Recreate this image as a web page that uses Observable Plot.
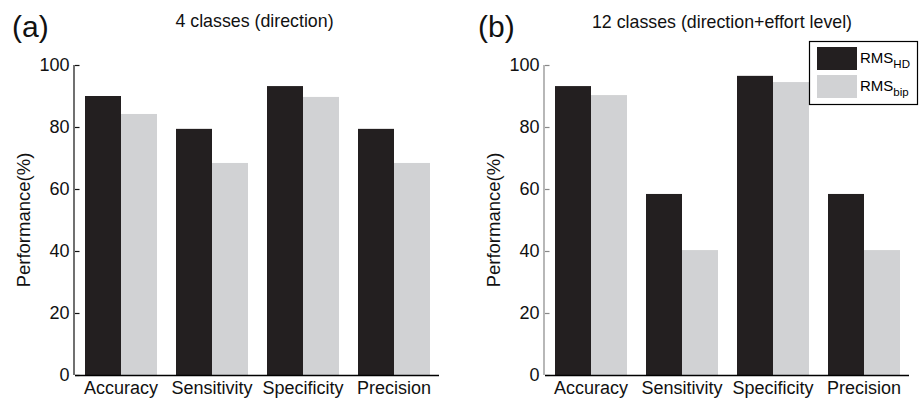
<!DOCTYPE html>
<html><head><meta charset="utf-8">
<script src="https://cdn.jsdelivr.net/npm/d3@7"></script>
<script src="https://cdn.jsdelivr.net/npm/@observablehq/plot@0.6"></script>
<style>
body{margin:0;background:#fff;}
#wrap{position:relative;width:921px;height:400px;font-family:"Liberation Sans",Arial,Helvetica,sans-serif;font-style:normal;}
#wrap > svg, #wrap > figure{position:absolute;top:0;margin:0;}
#wrap text{font-style:normal;}
</style></head><body><div id="wrap"></div>
<script>
const metrics = ["Accuracy", "Sensitivity", "Specificity", "Precision"];
const seriesNames = ["RMS_HD", "RMS_bip"];
const hd4 = [90.0, 79.4, 93.2, 79.4];
const bip4 = [84.2, 68.4, 89.7, 68.4];
const hd12 = [93.2, 58.4, 96.5, 58.4];
const bip12 = [90.3, 40.3, 94.5, 40.3];
const yTicks = [0, 20, 40, 60, 80, 100];
const colors = ["#231f20", "#d1d2d4"];
const titles = ["4 classes (direction)", "12 classes (direction+effort level)"];
const letters = ["(a)", "(b)"];
const yLabel = "Performance(%)";

const FONT = '"Liberation Sans", Arial, Helvetica, sans-serif';
const wrap = document.getElementById("wrap");

function rowsOf(hd, bip) {
  const rows = [];
  metrics.forEach((m, i) => {
    rows.push({metric: m, series: seriesNames[0], value: hd[i]});
    rows.push({metric: m, series: seriesNames[1], value: bip[i]});
  });
  return rows;
}

const panels = [];
function panel(hd, bip, {left, marginLeft, marginRight, axisColor}) {
  const chart = Plot.plot({
    width: 460, height: 400,
    marginLeft, marginRight, marginTop: 65, marginBottom: 25,
    style: {fontFamily: FONT, fontSize: "18px", color: "#000", background: "transparent", overflow: "visible"},
    fx: {domain: metrics, padding: 0, label: null},
    x: {domain: seriesNames, paddingInner: 0, paddingOuter: 0.25, axis: null},
    y: {domain: [0, 100], ticks: yTicks},
    color: {domain: seriesNames, range: colors},
    marks: [
      Plot.barY(rowsOf(hd, bip), {fx: "metric", x: "series", y: "value", fill: "series"}),
      Plot.axisY({ticks: yTicks, tickSize: -4.5, tickPadding: 10.5, stroke: axisColor, strokeWidth: 1.2,
        label: null, fill: "#111"}),
      Plot.ruleY([0], {stroke: "#000", strokeWidth: 1.3}),
      Plot.axisFx({anchor: "bottom", tickSize: 0, tickPadding: 6, label: null, fill: "#111"})
    ]
  });
  chart.style.left = left + "px";
  wrap.appendChild(chart);
  panels.push({chart, left, marginLeft, marginRight, axisColor});
}

panel(hd4, bip4, {left: 0, marginLeft: 74, marginRight: 20, axisColor: "#111"});
panel(hd12, bip12, {left: 461, marginLeft: 83, marginRight: 11, axisColor: "#888"});

// annotations: axis lines, y labels, panel letters, titles, legend
const svg = d3.select(wrap).append("svg")
  .attr("width", 921).attr("height", 400)
  .style("left", "0px").style("pointer-events", "none")
  .style("font-family", FONT).style("font-style", "normal");

const titlePos = [[254.5, 27], [722, 28]];
const letterPos = [[12, 37], [478, 37]];
panels.forEach((p, i) => {
  const y = p.chart.scale("y");
  const y0 = y.apply(0), y1 = y.apply(100);
  const ax = p.left + p.marginLeft;
  svg.append("line").attr("x1", ax).attr("x2", ax).attr("y1", y0).attr("y2", y1)
    .attr("stroke", p.axisColor).attr("stroke-width", 1.2);
  svg.append("text").attr("transform", `translate(${ax - 44},${(y0 + y1) / 2}) rotate(-90)`)
    .attr("text-anchor", "middle").attr("font-size", 18.5).attr("fill", "#111").text(yLabel);
  svg.append("text").attr("x", titlePos[i][0]).attr("y", titlePos[i][1])
    .attr("text-anchor", "middle").attr("font-size", 17.8).attr("fill", "#111").text(titles[i]);
  svg.append("text").attr("x", letterPos[i][0]).attr("y", letterPos[i][1])
    .attr("font-size", 30).attr("fill", "#111").text(letters[i]);
});

const lg = svg.append("g").attr("transform", "translate(809.5,41.5)");
lg.append("rect").attr("width", 108).attr("height", 63).attr("fill", "#fff").attr("stroke", "#000").attr("stroke-width", 1.2);
seriesNames.forEach((s, i) => {
  const [base, sub] = s.split("_");
  lg.append("rect").attr("x", 7.5).attr("y", 5.5 + i * 28).attr("width", 40).attr("height", 23).attr("fill", colors[i]);
  const t = lg.append("text").attr("x", 50.5).attr("y", 21.5 + i * 28).attr("font-size", 15).attr("fill", "#000");
  t.append("tspan").text(base);
  t.append("tspan").attr("dy", 5).attr("font-size", 11.5).text(sub);
});
</script>
</body></html>
